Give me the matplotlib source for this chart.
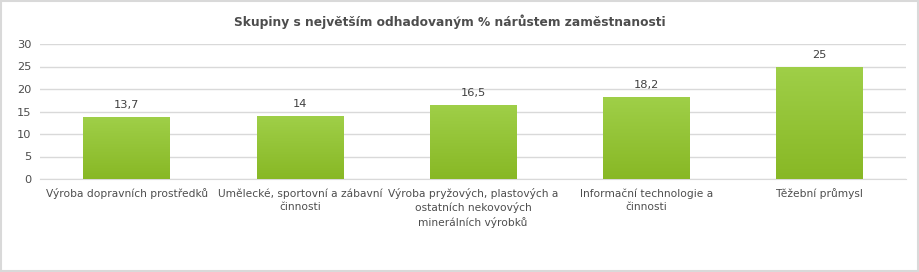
import numpy as np
import matplotlib
matplotlib.use('Agg')
from matplotlib import pyplot as plt
from matplotlib.patches import Rectangle

categories = ['Výroba dopravních prostředků',
              'Umělecké, sportovní a zábavní\nčinnosti',
              'Výroba pryžových, plastových a\nostatních nekovových\nminerálních výrobků',
              'Informační technologie a\nčinnosti',
              'Těžební průmysl']
values = [13.7, 14, 16.5, 18.2, 25]
value_labels = ['13,7', '14', '16,5', '18,2', '25']
yticks = [0, 5, 10, 15, 20, 25, 30]

c_text = '#4d4d4d'
c_grid = '#d9d9d9'
c_top = '#9fcf48'
c_bot = '#88b825'

plt.rcParams['font.family'] = ['DejaVu Sans']

fig = plt.figure(figsize=(9.2, 2.72), dpi=100)
ax = fig.add_axes([40/920, 1-179/272, 866/920, 135/272])

x = np.arange(len(values))
bars = ax.bar(x, values, width=0.5, color=c_bot, zorder=2)

# vertical gradient in each bar
grad = np.linspace(0, 1, 100).reshape(-1, 1)
cmap = matplotlib.colors.LinearSegmentedColormap.from_list('g', [c_bot, c_top])
for b in bars:
    bx, by = b.get_x(), b.get_y()
    bw, bh = b.get_width(), b.get_height()
    im = ax.imshow(grad, cmap=cmap, origin='lower', aspect='auto',
                   extent=[bx, bx+bw, by, by+bh], zorder=3)
    im.set_clip_path(b)

for xi, v, lab in zip(x, values, value_labels):
    ax.annotate(lab, (xi, v), xytext=(0, 5), textcoords='offset points',
                ha='center', va='bottom', fontsize=8.2, color='#404040')

ax.set_xlim(-0.5, len(values)-0.5)
ax.set_ylim(0, 30)
ax.set_yticks(yticks)
ax.set_xticks(x)
ax.set_xticklabels(categories, fontsize=7.7, color=c_text, linespacing=1.38)
ax.tick_params(axis='y', labelsize=8.2, colors=c_text, length=0, pad=6)
ax.tick_params(axis='x', length=0, pad=6.5)
ax.grid(axis='y', color=c_grid, linewidth=1, zorder=0)
for s in ['top', 'right', 'left']:
    ax.spines[s].set_visible(False)
ax.spines['bottom'].set_color(c_grid)

fig.text(450/920, 1-22/272, 'Skupiny s největším odhadovaným % nárůstem zaměstnanosti',
         ha='center', va='center', fontsize=8.8, fontweight='bold', color=c_text)

fig.patches.append(Rectangle((0.001, 0.002), 0.997, 0.995, transform=fig.transFigure,
                             fill=False, edgecolor='#d9d9d9', linewidth=1.5))

fig.savefig('out.png', dpi=100)
